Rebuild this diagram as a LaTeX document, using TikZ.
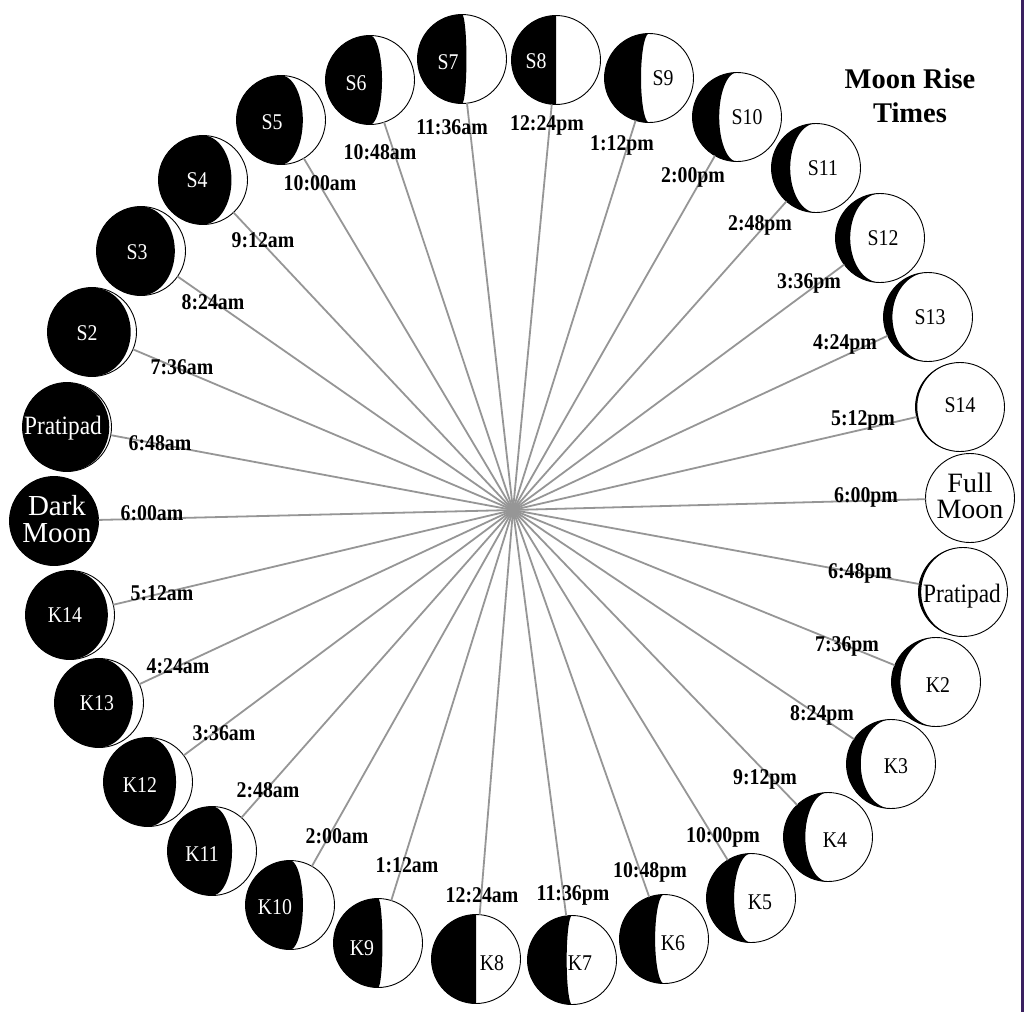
\documentclass[tikz,border=0pt]{standalone}
\usepackage{fontspec}
\setmainfont{Liberation Serif}
\newfontfamily\labfont[FakeStretch=0.88]{Liberation Serif}
\definecolor{raygray}{RGB}{150,150,150}
\definecolor{edgepurple}{RGB}{58,32,96}
\tikzset{
  moonbg/.style={circle, minimum size=89pt, inner sep=0pt, outer sep=0pt, fill=white},
  moonrim/.style={line width=0.9pt, black},
  ray/.style={raygray, line width=1.8pt},
  timelab/.style={font=\labfont\bfseries\fontsize{22.5}{26}\selectfont, inner sep=0pt, text height=15.2pt, text depth=0pt},
  moonlab/.style={font=\labfont\fontsize{22.5}{26}\selectfont, inner sep=0pt, text height=14.9pt, text depth=0pt},
  pratlab/.style={font=\labfont\fontsize{26.5}{30}\selectfont, inner sep=0pt, text height=17.5pt, text depth=0pt},
  biglab/.style={align=center, inner sep=0pt},
  titlelab/.style={align=center, inner sep=0pt, font=\bfseries\fontsize{28.5}{34}\selectfont},
}
\newcommand\moonphase[4]{%
  \node[moonbg] (#1) at (#2,#3) {};
  \fill[black, shift={(#2,#3)}] plot[domain=-90:90, samples=41] ({-44.5*cos(\x)},{44.5*sin(\x)}) -- plot[domain=90:-90, samples=41] ({#4*44.5*cos(\x)},{44.5*sin(\x)}) -- cycle;
  \draw[moonrim] (#1.center) circle[radius=44.5pt];
}
\begin{document}
\begin{tikzpicture}[x=1pt,y=-1pt]
\fill[white] (0,0) rectangle (1025,1012);
\useasboundingbox (0,0) rectangle (1025,1012);
\draw[edgepurple, line width=2.5pt] (1022.5,0) -- (1022.5,1012);
\coordinate (ctr) at (513,510);

% moons
\moonphase{dark}{54}{521}{1}
\moonphase{pratL}{67}{427}{0.95}
\moonphase{s2}{92}{332}{0.87}
\moonphase{s3}{141}{251}{0.76}
\moonphase{s4}{203}{180}{0.64}
\moonphase{s5}{281}{120}{0.49}
\moonphase{s6}{370}{80}{0.27}
\moonphase{s7}{462}{59}{0.1}
\moonphase{s8}{556}{60}{0}
\moonphase{s9}{649}{78}{-0.18}
\moonphase{s10}{737}{117}{-0.4}
\moonphase{s11}{816}{168}{-0.58}
\moonphase{s12}{880}{238}{-0.67}
\moonphase{s13}{928}{317}{-0.8}
\moonphase{s14}{960}{407}{-0.96}
\node[moonbg] (full) at (970,498) {};
\draw[moonrim] (full.center) circle[radius=44.5pt];
\moonphase{pratR}{963}{592}{-0.94}
\moonphase{k2}{936}{682}{-0.8}
\moonphase{k3}{891}{764}{-0.68}
\moonphase{k4}{828}{837}{-0.51}
\moonphase{k5}{751}{898}{-0.38}
\moonphase{k6}{664}{939}{-0.2}
\moonphase{k7}{572}{960}{-0.12}
\moonphase{k8}{476}{959}{0}
\moonphase{k9}{378}{943}{0.1}
\moonphase{k10}{290}{905}{0.29}
\moonphase{k11}{212}{851}{0.45}
\moonphase{k12}{148}{782}{0.63}
\moonphase{k13}{99}{703}{0.76}
\moonphase{k14}{70}{615}{0.85}

% rays
\foreach \m in {dark,pratL,s2,s3,s4,s5,s6,s7,s8,s9,s10,s11,s12,s13,s14,full,pratR,k2,k3,k4,k5,k6,k7,k8,k9,k10,k11,k12,k13,k14}
  \draw[ray] (ctr) -- (\m);

% moon names
\node[biglab, text=white, font=\fontsize{29}{27}\selectfont] (tdark) at (57,519) {Dark\\Moon};
\node[pratlab, text=white] (tpratL) at (63,426) {Pratipad};
\node[moonlab, text=white] (ts2) at (87,333) {S2};
\node[moonlab, text=white] (ts3) at (137,252) {S3};
\node[moonlab, text=white] (ts4) at (197,180) {S4};
\node[moonlab, text=white] (ts5) at (272,122) {S5};
\node[moonlab, text=white] (ts6) at (356,83) {S6};
\node[moonlab, text=white] (ts7) at (448,62) {S7};
\node[moonlab, text=white] (ts8) at (536,61) {S8};
\node[moonlab] (ts9) at (663,78) {S9};
\node[moonlab] (ts10) at (747,117) {S10};
\node[moonlab] (ts11) at (823,168) {S11};
\node[moonlab] (ts12) at (883,238) {S12};
\node[moonlab] (ts13) at (930,317) {S13};
\node[moonlab] (ts14) at (960,405) {S14};
\node[biglab, font=\fontsize{28}{26}\selectfont] (tfull) at (970,496) {Full\\Moon};
\node[pratlab] (tpratR) at (962,594) {Pratipad};
\node[moonlab] (tk2) at (938,685) {K2};
\node[moonlab] (tk3) at (896,766) {K3};
\node[moonlab] (tk4) at (835,840) {K4};
\node[moonlab] (tk5) at (760,902) {K5};
\node[moonlab] (tk6) at (673,943) {K6};
\node[moonlab] (tk7) at (580,963) {K7};
\node[moonlab] (tk8) at (492,963) {K8};
\node[moonlab, text=white] (tk9) at (362,948) {K9};
\node[moonlab, text=white] (tk10) at (275,907) {K10};
\node[moonlab, text=white] (tk11) at (202,854) {K11};
\node[moonlab, text=white] (tk12) at (140,785) {K12};
\node[moonlab, text=white] (tk13) at (97,703) {K13};
\node[moonlab, text=white] (tk14) at (65,615) {K14};

% rise times
\node[timelab] (rdark) at (152,513) {6:00am};
\node[timelab] (rpratL) at (160,443) {6:48am};
\node[timelab] (rs2) at (182,367) {7:36am};
\node[timelab] (rs3) at (213,302) {8:24am};
\node[timelab] (rs4) at (263,240) {9:12am};
\node[timelab] (rs5) at (320,183) {10:00am};
\node[timelab] (rs6) at (380,152) {10:48am};
\node[timelab] (rs7) at (452,127) {11:36am};
\node[timelab] (rs8) at (547,123) {12:24pm};
\node[timelab] (rs9) at (622,143) {1:12pm};
\node[timelab] (rs10) at (693,175) {2:00pm};
\node[timelab] (rs11) at (760,223) {2:48pm};
\node[timelab] (rs12) at (809,281) {3:36pm};
\node[timelab] (rs13) at (845,342) {4:24pm};
\node[timelab] (rs14) at (863,418) {5:12pm};
\node[timelab] (rfull) at (866,495) {6:00pm};
\node[timelab] (rpratR) at (860,571) {6:48pm};
\node[timelab] (rk2) at (847,644) {7:36pm};
\node[timelab] (rk3) at (822,713) {8:24pm};
\node[timelab] (rk4) at (765,777) {9:12pm};
\node[timelab] (rk5) at (723,835) {10:00pm};
\node[timelab] (rk6) at (650,870) {10:48pm};
\node[timelab] (rk7) at (573,893) {11:36pm};
\node[timelab] (rk8) at (482,895) {12:24am};
\node[timelab] (rk9) at (407,865) {1:12am};
\node[timelab] (rk10) at (337,836) {2:00am};
\node[timelab] (rk11) at (268,790) {2:48am};
\node[timelab] (rk12) at (224,733) {3:36am};
\node[timelab] (rk13) at (178,666) {4:24am};
\node[timelab] (rk14) at (162,593) {5:12am};

% title
\node[titlelab] (title) at (910,96) {Moon Rise\\Times};
\end{tikzpicture}
\end{document}
